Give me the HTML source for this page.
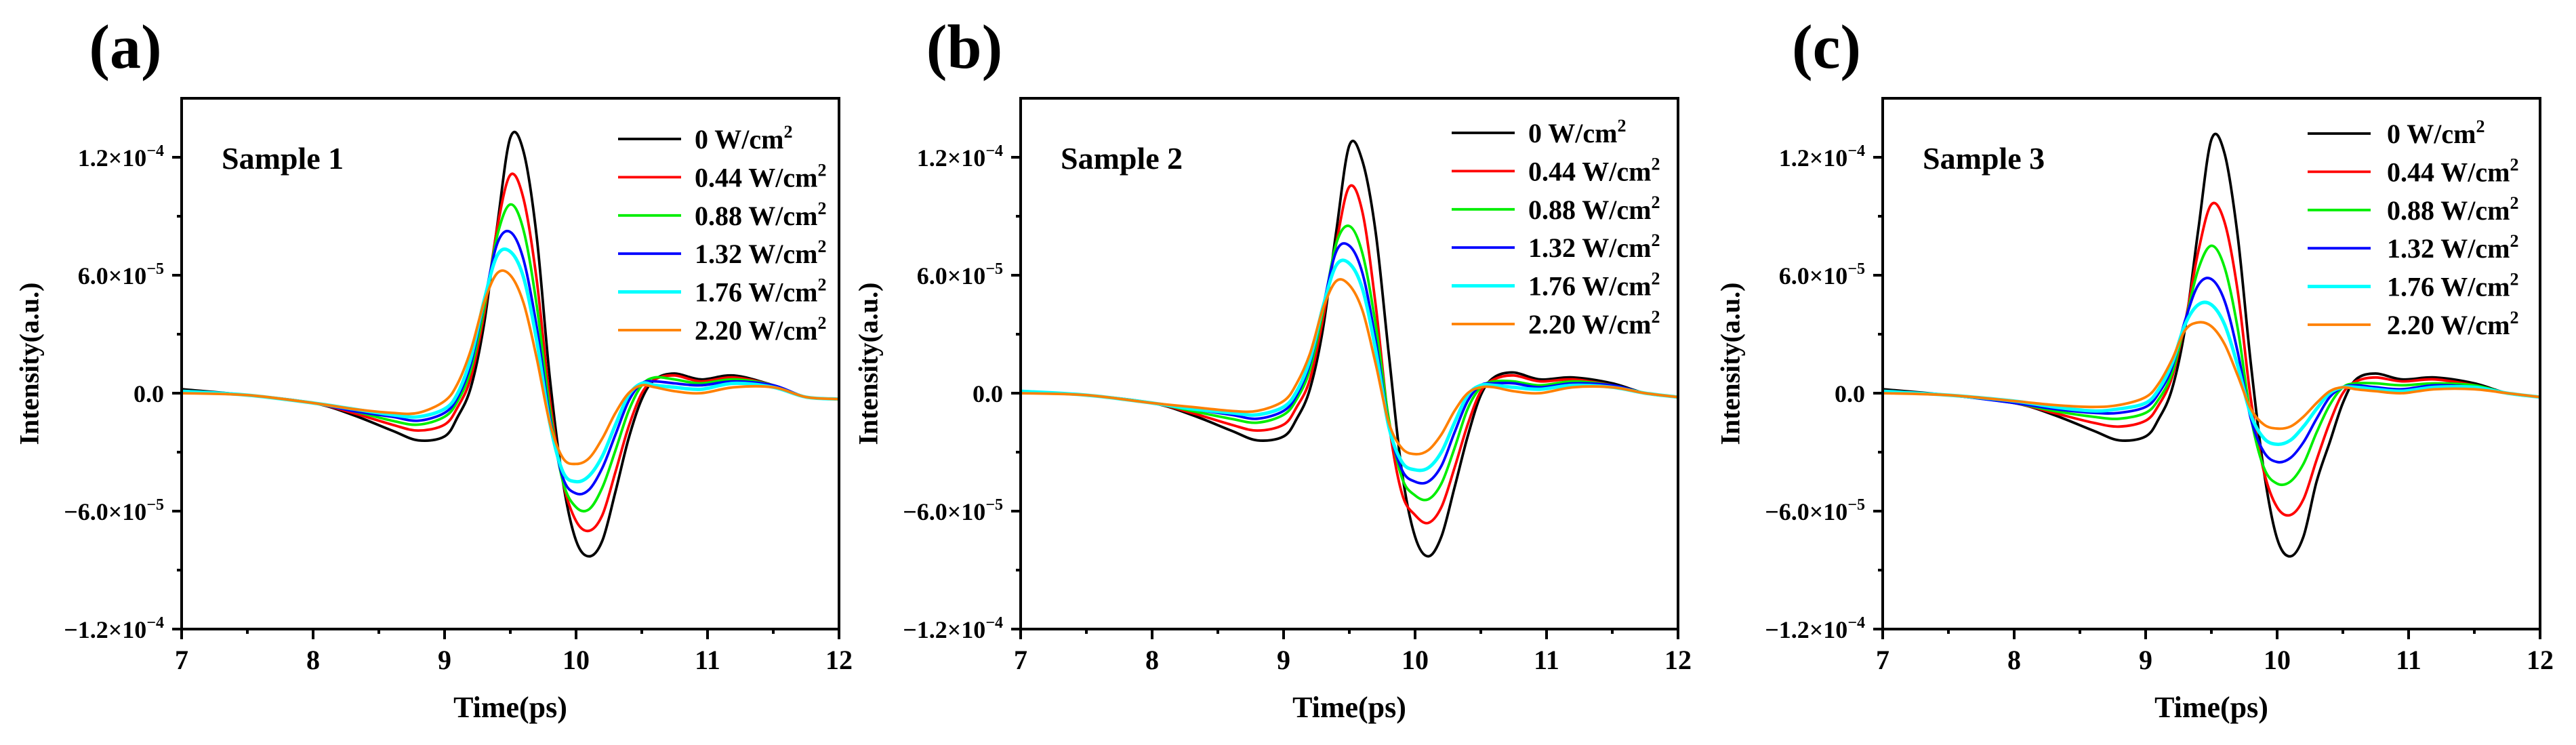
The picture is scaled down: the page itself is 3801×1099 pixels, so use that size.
<!DOCTYPE html>
<html><head><meta charset="utf-8"><style>
html,body{margin:0;padding:0;background:#fff;}
svg{display:block;font-family:"Liberation Serif",serif;font-weight:bold;}
</style></head><body>
<svg id="fig" width="3801" height="1099" viewBox="0 0 3801 1099" xmlns="http://www.w3.org/2000/svg"></svg>
<script>
const times = [7,7.5,8,8.3,8.6,8.8,9.0,9.1,9.2,9.3,9.4,9.5,9.6,9.7,9.8,9.9,10.0,10.1,10.2,10.3,10.4,10.5,10.6,10.75,10.95,11.2,11.5,11.75,12];
const seriesNames = ["0 W/cm","0.44 W/cm","0.88 W/cm","1.32 W/cm","1.76 W/cm","2.20 W/cm"];
const seriesColors = ["#000000","#ff0000","#00ee00","#0000ff","#00ffff","#ff8000"];
const xTicks = [7,8,9,10,11,12];
const yTicks = [-12,-6,0,6,12];
const yTickLabels = [["−1.2×10","−4"],["−6.0×10","−5"],["0.0",""],["6.0×10","−5"],["1.2×10","−4"]];
const panelLabels = ["(a)","(b)","(c)"];
const sampleLabels = ["Sample 1","Sample 2","Sample 3"];
// values in units of 1e-5
const a0 = [0.2,-0.1,-0.5,-1.1,-1.9,-2.4,-2.2,-1.2,0.3,3.5,8.5,13.0,12.3,8.0,0.8,-4.5,-7.5,-8.3,-7.5,-5.0,-2.3,-0.3,0.7,1.0,0.7,0.9,0.4,-0.2,-0.3];
const a1 = [0.1,-0.1,-0.5,-1.0,-1.6,-1.9,-1.6,-0.7,0.8,4.0,8.4,11.1,9.9,5.8,-0.3,-4.5,-6.5,-7.0,-6.2,-4.0,-1.7,0.0,0.7,0.9,0.6,0.8,0.4,-0.2,-0.3];
const a2 = [0.1,-0.1,-0.5,-0.9,-1.4,-1.6,-1.2,-0.4,1.2,4.3,8.0,9.6,8.3,4.5,-0.8,-4.5,-5.8,-5.9,-4.8,-2.9,-0.9,0.4,0.8,0.7,0.5,0.7,0.4,-0.2,-0.3];
const a3 = [0.1,-0.1,-0.5,-0.9,-1.2,-1.4,-1.0,-0.2,1.5,4.6,7.6,8.2,6.8,3.4,-1.2,-4.3,-5.1,-4.9,-3.8,-2.1,-0.4,0.5,0.6,0.5,0.4,0.6,0.4,-0.2,-0.3];
const a4 = [0.1,-0.1,-0.5,-0.8,-1.1,-1.2,-0.8,0.0,1.8,4.7,7.0,7.2,5.9,2.7,-1.5,-4.0,-4.5,-4.2,-3.2,-1.6,-0.1,0.5,0.4,0.3,0.2,0.5,0.3,-0.2,-0.3];
const a5 = [0.0,-0.1,-0.5,-0.8,-1.0,-1.0,-0.4,0.5,2.2,4.6,6.1,6.0,4.6,1.8,-1.5,-3.3,-3.6,-3.3,-2.3,-1.0,0.0,0.4,0.3,0.1,0.0,0.3,0.3,-0.2,-0.3];
const b0 = [0.1,-0.1,-0.5,-1.1,-1.9,-2.4,-2.2,-1.3,0.2,3.3,8.2,12.6,11.8,8.2,2.0,-4.0,-7.3,-8.3,-7.3,-4.8,-2.2,-0.1,0.8,1.05,0.7,0.8,0.5,0.0,-0.2];
const b1 = [0.1,-0.1,-0.5,-1.0,-1.6,-1.9,-1.6,-0.7,0.7,3.8,7.6,10.5,9.2,4.5,-1.5,-5.1,-6.2,-6.6,-5.8,-3.8,-1.6,0.1,0.7,0.9,0.6,0.7,0.4,0.0,-0.2];
const b2 = [0.1,-0.1,-0.5,-0.9,-1.3,-1.5,-1.1,-0.3,1.2,4.2,7.6,8.5,7.1,3.5,-1.3,-4.3,-5.2,-5.4,-4.6,-2.8,-0.8,0.3,0.6,0.6,0.4,0.6,0.4,0.0,-0.2];
const b3 = [0.1,-0.1,-0.5,-0.8,-1.1,-1.3,-0.9,-0.1,1.5,4.4,7.2,7.5,6.1,2.7,-1.6,-3.9,-4.5,-4.5,-3.7,-2.0,-0.4,0.4,0.5,0.5,0.3,0.5,0.4,0.0,-0.2];
const b4 = [0.1,-0.1,-0.5,-0.8,-1.0,-1.1,-0.7,0.1,1.7,4.4,6.5,6.6,5.3,2.2,-1.7,-3.5,-3.9,-3.8,-3.0,-1.5,-0.1,0.4,0.4,0.3,0.2,0.4,0.3,0.0,-0.2];
const b5 = [0.0,-0.1,-0.5,-0.7,-0.9,-0.9,-0.4,0.5,2.0,4.3,5.7,5.5,4.2,1.5,-1.5,-2.8,-3.1,-2.9,-2.1,-0.9,0.0,0.3,0.3,0.1,0.0,0.3,0.3,0.0,-0.2];
const c0 = [0.2,-0.1,-0.5,-1.1,-1.9,-2.4,-2.2,-1.3,0.2,3.3,8.3,12.9,12.2,8.0,1.5,-4.0,-7.4,-8.3,-7.3,-4.5,-2.5,-0.5,0.7,1.0,0.7,0.8,0.5,0.0,-0.2];
const c1 = [0.1,-0.1,-0.5,-1.0,-1.5,-1.7,-1.4,-0.6,0.8,3.6,7.2,9.6,8.7,5.2,-0.3,-4.0,-5.8,-6.2,-5.4,-3.4,-1.5,0.0,0.6,0.8,0.6,0.7,0.4,0.0,-0.2];
const c2 = [0.1,-0.1,-0.5,-0.9,-1.2,-1.3,-1.0,-0.3,1.0,3.6,6.3,7.5,6.4,3.3,-1.2,-3.8,-4.6,-4.5,-3.6,-2.0,-0.6,0.3,0.5,0.5,0.4,0.5,0.4,0.0,-0.2];
const c3 = [0.1,-0.1,-0.5,-0.8,-1.0,-1.0,-0.7,0.0,1.3,3.7,5.5,5.8,4.7,2.1,-1.3,-3.0,-3.5,-3.3,-2.5,-1.3,-0.2,0.3,0.4,0.3,0.2,0.4,0.3,0.0,-0.2];
const c4 = [0.1,-0.1,-0.4,-0.7,-0.9,-0.8,-0.5,0.2,1.5,3.5,4.5,4.5,3.5,1.4,-1.1,-2.3,-2.6,-2.4,-1.7,-0.8,0.0,0.3,0.3,0.2,0.1,0.3,0.3,0.0,-0.2];
const c5 = [0.0,-0.1,-0.4,-0.6,-0.7,-0.6,-0.2,0.5,1.7,3.2,3.6,3.4,2.5,0.9,-0.8,-1.6,-1.8,-1.7,-1.2,-0.5,0.1,0.3,0.2,0.1,0.0,0.2,0.2,0.0,-0.2];
const panelData = [[a0,a1,a2,a3,a4,a5],[b0,b1,b2,b3,b4,b5],[c0,c1,c2,c3,c4,c5]];

const NS = "http://www.w3.org/2000/svg";
const svg = document.getElementById("fig");
function mk(tag, attrs, parent){ const e=document.createElementNS(NS,tag); for(const k in attrs) e.setAttribute(k,attrs[k]); (parent||svg).appendChild(e); return e; }

const panelLefts = [268,1506,2778];
const legendRow0 = [205,196,197];
const legendLineX = [644,636,627];
const legendTextX = [757,749,744];
const W = 970, TOP = 145, BOT = 928, XMIN = 7, XMAX = 12, YMIN = -12, YMAX = 15;

panelLefts.forEach((L, p) => {
  const g = mk("g", {});
  
  
  const sx = t => L + (t - XMIN) / (XMAX - XMIN) * W;
  const sy = v => BOT - (v - YMIN) / (YMAX - YMIN) * (BOT - TOP);

  panelData[p].forEach((vals, s) => {
    const pts = times.map((t,i)=>[sx(t), sy(vals[i])]);
    let d = "M" + pts[0][0].toFixed(1) + "," + pts[0][1].toFixed(1);
    for (let i=0;i<pts.length-1;i++){
      const p0 = pts[Math.max(0,i-1)], p1 = pts[i], p2 = pts[i+1], p3 = pts[Math.min(pts.length-1,i+2)];
      const c1x = p1[0]+(p2[0]-p0[0])/6, c1y = p1[1]+(p2[1]-p0[1])/6;
      const c2x = p2[0]-(p3[0]-p1[0])/6, c2y = p2[1]-(p3[1]-p1[1])/6;
      d += " C"+c1x.toFixed(1)+","+c1y.toFixed(1)+" "+c2x.toFixed(1)+","+c2y.toFixed(1)+" "+p2[0].toFixed(1)+","+p2[1].toFixed(1);
    }
    const path = mk("path", {d:d, fill:"none", stroke:seriesColors[s], "stroke-width": s===4?5:3.8, "stroke-linejoin":"round"}, g);
    
    
  });

  const frame = mk("rect", {x:L, y:TOP, width:W, height:BOT-TOP, fill:"none", stroke:"#000", "stroke-width":4}, g);
  
  

  xTicks.forEach(t => {
    mk("line", {x1:sx(t), y1:BOT, x2:sx(t), y2:BOT+15, stroke:"#000", "stroke-width":4}, g);
    const tx = mk("text", {x:sx(t), y:987, "font-size":40, "text-anchor":"middle", fill:"#000"}, g);
    tx.textContent = t;
    
    
    if (t < XMAX) mk("line", {x1:sx(t+0.5), y1:BOT, x2:sx(t+0.5), y2:BOT+7, stroke:"#000", "stroke-width":4}, g);
  });
  yTicks.forEach((v, i) => {
    mk("line", {x1:L-14, y1:sy(v), x2:L, y2:sy(v), stroke:"#000", "stroke-width":4}, g);
    if (v < 12) mk("line", {x1:L-7, y1:sy(v+3), x2:L, y2:sy(v+3), stroke:"#000", "stroke-width":4}, g);
    const lab = yTickLabels[i];
    const tx = mk("text", {x:L-26, y:sy(v)+13, "font-size":36, "text-anchor":"end", fill:"#000"}, g);
    
    
    const m = document.createElementNS(NS,"tspan"); m.textContent = lab[0]; tx.appendChild(m);
    if (lab[1]) { const sp = document.createElementNS(NS,"tspan"); sp.setAttribute("dy","-15"); sp.setAttribute("font-size","24"); sp.textContent = lab[1]; tx.appendChild(sp); }
  });

  const xt = mk("text", {x:L+W/2, y:1058, "font-size":44, "text-anchor":"middle", fill:"#000"}, g);
  xt.textContent = "Time(ps)";
  
  
  const yx = L-225, yy = (TOP+BOT)/2;
  const yt = mk("text", {x:yx, y:yy, "font-size":40, "text-anchor":"middle", "dominant-baseline":"central", transform:"rotate(-90 "+yx+" "+yy+")", fill:"#000"}, g);
  yt.textContent = "Intensity(a.u.)";
  
  

  const pl = mk("text", {x:L-83, y:100, "font-size":92, "text-anchor":"middle", fill:"#000"}, g);
  pl.textContent = panelLabels[p];
  
  
  const sl = mk("text", {x:L+59, y:249, "font-size":46, fill:"#000"}, g);
  sl.textContent = sampleLabels[p];
  
  

  seriesNames.forEach((nm, s) => {
    const ry = legendRow0[p] + s*56.4;
    const ll = mk("line", {x1:L+legendLineX[p], y1:ry, x2:L+legendLineX[p]+93, y2:ry, stroke:seriesColors[s], "stroke-width": s===4?5:3.8}, g);
    
    
    const lt = mk("text", {x:L+legendTextX[p], y:ry+14, "font-size":40, fill:"#000"}, g);
    
    
    const t1 = document.createElementNS(NS,"tspan"); t1.textContent = nm; lt.appendChild(t1);
    const t2 = document.createElementNS(NS,"tspan"); t2.setAttribute("dy","-16"); t2.setAttribute("font-size","26"); t2.textContent = "2"; lt.appendChild(t2);
  });
});
</script>
</body></html>
